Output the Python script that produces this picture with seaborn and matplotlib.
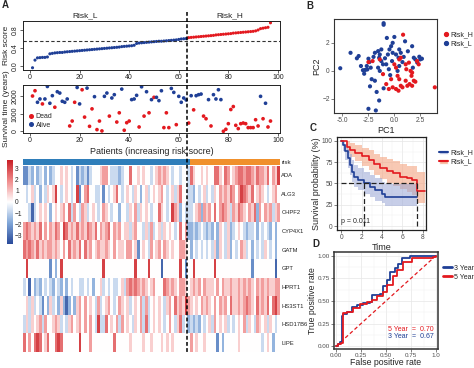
import numpy as np
import pandas as pd
import matplotlib
matplotlib.use("Agg")
import matplotlib.pyplot as plt
import seaborn as sns
from matplotlib import transforms
from matplotlib.colors import LinearSegmentedColormap, ListedColormap
from matplotlib.lines import Line2D
from matplotlib.patches import Patch

# ---- data ----
risk_score = [-0.04, 0.13, 0.18, 0.185, 0.19, 0.19, 0.20, 0.27, 0.28, 0.29,
              0.295, 0.30, 0.30, 0.31, 0.315, 0.32, 0.325, 0.33, 0.335, 0.34,
              0.345, 0.35, 0.355, 0.36, 0.365, 0.37, 0.375, 0.38, 0.385, 0.39,
              0.395, 0.40, 0.405, 0.41, 0.415, 0.42, 0.43, 0.435, 0.44, 0.445,
              0.45, 0.46, 0.50, 0.51, 0.515, 0.52, 0.525, 0.53, 0.535, 0.54,
              0.545, 0.55, 0.55, 0.555, 0.56, 0.565, 0.57, 0.575, 0.58, 0.59,
              0.60, 0.605, 0.61, 0.63, 0.635, 0.64, 0.645, 0.65, 0.655, 0.66,
              0.665, 0.67, 0.675, 0.68, 0.69, 0.695, 0.70, 0.705, 0.71, 0.715,
              0.72, 0.73, 0.735, 0.74, 0.745, 0.75, 0.755, 0.76, 0.765, 0.77,
              0.78, 0.80, 0.83, 0.84, 0.85, 0.86, 0.96]
risk_cutoff = 0.556
n_low, n_high = 63, 34

surv_time = [2019, 2321, 1660, 1849, 1566, 1849, 2566, 1604, 2038, 1377,
             2264, 2189, 1717, 1660, 1849, 302, 585, 1660, 2510, 1566,
             2378, 811, 2472, 283, 1283, 1981, 94, 585, 19, 2000,
             2189, 868, 1906, 2095, 528, 1057, 2415, 57, 490, 585,
             1812, 1849, 2057, 245, 2547, 868, 2264, 1057, 1812, 1944,
             1944, 1755, 2321, 208, 1057, 208, 2453, 2227, 377, 2000,
             1660, 1906, 1793, 472, 2038, 1227, 2038, 2095, 2130, 868,
             717, 1812, 302, 2095, 1849, 2378, 1812, 0, 113, 434,
             1245, 1415, 340, 151, 434, 472, 434, 208, 208, 208,
             660, 302, 2000, 717, 1604, 245, 585]
surv_status = ("DDAADAAAAD" "AAAAADDDAA" "DDADDADDDA" "ADAADDADDD" "AAADADADAD"
               "AAADDDAADA" "AAADADAAAD" "DADAAAADDD" "DDDDDDDDDD" "DDADADD")

genes = ["ADA", "ALG3", "CHPF2", "CYP4X1", "GATM", "GPT", "HPRT1", "HS3ST1", "HSD17B6", "LIPE"]
# expression level codes per patient: '4' = 0, each step = 0.8
expr_codes = [
    "1132423424" "2344545434" "1323134445" "6643332344" "7445454434" "5656543443" "4437544545" "4477547645" "6776776576" "6574658",
    "4345342435" "4584345434" "8146744334" "1434574345" "4354245345" "4564345357" "4433243453" "4354656576" "4687657456" "5434564",
    "4430345454" "2454564736" "4365345434" "6543442443" "5463545434" "4754348652" "4333456265" "6474676536" "5765465726" "4656356",
    "6765657464" "6576487565" "7565765746" "5674656455" "3564435363" "4535454347" "4622323432" "3242543523" "4543233424" "3432424",
    "7676575656" "6565464756" "5747564565" "5654645546" "6451454364" "5646545446" "6542434343" "4352543524" "3465342434" "3543424",
    "4844444444" "1424844444" "4444444444" "8444444444" "4484444844" "4404444448" "4144844444" "4484444444" "4444441444" "4444404",
    "3404232434" "3243242434" "4334342445" "3434334536" "7676565456" "4447656546" "6545656465" "5546465565" "5656565465" "6565566",
    "4535343142" "5342520242" "5646454363" "4564346545" "3454636345" "4543564756" "5865454656" "5464656475" "5656765475" "6574786",
    "3535456364" "4565343564" "5646464383" "3745463645" "4354637345" "4543464357" "3423232434" "5364545343" "4546354365" "4535434",
    "7464787457" "4478744444" "4844464444" "4444744444" "5444454454" "4454545444" "4446454454" "4441424444" "4544444444" "3454244",
]

pca_low_x = [-5.20, -4.21, -3.43, -3.21, -3.02, -2.80, -2.65, -2.49, -2.40, -2.27,
             -2.18, -1.87, -2.34, -1.87, -1.56, -1.40, -1.25, -1.46, -1.25, -1.56,
             -1.40, -1.09, -1.03, -1.03, -0.72, -0.47, -0.31, -0.16, 0.00, -0.62,
             -0.16, 0.16, -0.78, -0.53, -0.22, -1.03, -1.46, -2.49, -1.78, 0.47,
             0.62, 0.40, 1.03, 1.71, 1.78, 1.87, 2.02, 2.40, 2.49, 2.65,
             0.47, 0.31, 0.78, -3.60, -2.90, -0.90, -2.00, -1.70, 0.90, -0.40,
             1.30, -2.60, 2.20]
pca_low_y = [0.19, 1.29, 1.06, 0.35, 0.05, 0.07, 0.35, 0.87, 0.63, 0.23,
             -0.59, -0.70, -1.10, 1.29, 1.41, 1.17, 1.53, 0.94, 0.70, 0.23,
             0.00, 0.47, 3.29, 3.40, 2.35, 1.53, 1.76, 2.00, 2.42, 1.17,
             1.29, 1.17, 0.47, 0.12, 0.70, -1.24, -2.11, -2.70, -2.82, 1.53,
             1.29, 0.94, 2.11, 1.76, 0.23, 0.94, 0.82, 1.01, 0.82, 0.87,
             0.35, 0.00, 0.63, 0.90, -0.20, 0.90, 1.00, -1.50, 1.00, -0.30,
             1.40, 0.10, 0.60]
pca_high_x = [-2.49, -2.09, -1.40, -1.09, -0.78, -0.53, -0.31, 0.00, 0.16, 0.31,
              0.47, 0.62, 0.47, 0.62, 0.78, 0.84, 1.09, 1.15, 1.40, 1.56,
              1.71, 1.65, 1.46, 1.71, 1.87, 2.02, 1.09, 1.25, 0.16, 0.40,
              -0.16, 2.18, 2.34, 3.89]
pca_high_y = [0.63, 0.70, 0.82, -0.23, -0.94, -1.29, -0.59, 0.47, 0.23, -0.35,
              0.82, 0.94, -0.59, -1.06, -1.17, 2.58, 0.47, 0.12, 0.59, 0.00,
              -0.12, -0.35, -0.94, -1.06, -0.70, -0.77, -0.70, -1.06, -1.29, -1.41,
              -1.17, 0.70, 0.47, -1.17]

km_h_time = [0, 0.16, 0.4, 0.72, 0.9, 1.05, 1.3, 1.7, 2.2, 2.8, 3.3, 4.0, 4.3, 7.4]
km_h_surv = [100, 95.5, 87.7, 80, 72, 64, 58, 54, 50, 46, 42, 38, 34.6, 34.6]
km_h_low = [100, 88, 78, 68, 60, 52, 46, 42, 38, 34, 30, 27, 24, 24]
km_h_up = [100, 100, 96, 91, 85, 78, 72, 68, 64, 60, 56, 52, 49, 49]
km_l_time = [0, 0.55, 0.9, 1.4, 2.0, 2.7, 3.2, 3.8, 4.5, 5.1, 5.8, 6.4, 6.9, 7.4, 8.2]
km_l_surv = [100, 93.5, 89.6, 85.7, 82, 78, 72.7, 68, 65, 62, 58, 56, 54, 41, 41]
km_l_low = [100, 86, 81, 76, 71, 66, 60, 55, 51, 47, 43, 40, 37, 27, 27]
km_l_up = [100, 100, 98, 95, 92, 89, 85, 81, 79, 76, 73, 71, 70, 64, 64]
median_h, median_l = 2.2, 7.4

roc3_fpr = [0.00, 0.02, 0.04, 0.06, 0.07, 0.11, 0.16, 0.21, 0.27, 0.34, 0.36, 0.44, 0.47, 0.51, 0.54, 0.59, 0.62, 0.66, 0.74, 1.00]
roc3_tpr = [0.00, 0.03, 0.05, 0.33, 0.36, 0.38, 0.43, 0.46, 0.48, 0.49, 0.57, 0.58, 0.66, 0.73, 0.82, 0.86, 0.91, 0.97, 1.00, 1.00]
roc5_fpr = [0.00, 0.02, 0.05, 0.067, 0.11, 0.17, 0.24, 0.31, 0.36, 0.41, 0.47, 0.51, 0.57, 0.61, 0.67, 0.76, 0.97, 1.00]
roc5_tpr = [0.00, 0.02, 0.04, 0.37, 0.38, 0.42, 0.47, 0.49, 0.51, 0.55, 0.60, 0.68, 0.77, 0.84, 0.93, 0.97, 0.99, 1.00]

# ---- colours ----
BLUE = "#1F3F96"
RED = "#E3191F"
BAR_BLUE = "#2F7EBA"
BAR_ORANGE = "#F0902C"

sns.set_theme(style="white")
plt.rcParams['font.family'] = ['Liberation Sans', 'DejaVu Sans']

W, H = 474, 368
fig = plt.figure(figsize=(W / 100, H / 100), dpi=100)


def box(l, t, r, b):
    return [l / W, 1 - b / H, (r - l) / W, (b - t) / H]


def base_style(ax, lw=0.7, col="#222222", size=5):
    for s in ax.spines.values():
        s.set_visible(True)
        s.set_color(col)
        s.set_linewidth(lw)
    ax.tick_params(direction='out', length=2, width=0.5, labelsize=size, pad=1,
                   colors='#222222', left=True, bottom=True)


n = len(risk_score)
patients = np.arange(1, n + 1)
groups = ['Risk_L'] * n_low + ['Risk_H'] * n_high

# ---- A: risk score ----
ax1 = fig.add_axes(box(23, 21, 280, 70))
df_risk = pd.DataFrame({'patient': patients, 'score': risk_score, 'group': groups})
sns.scatterplot(data=df_risk, x='patient', y='score', hue='group',
                palette={'Risk_L': BLUE, 'Risk_H': RED}, s=5, linewidth=0,
                legend=False, ax=ax1)
ax1.axhline(risk_cutoff, ls=(0, (3, 2)), color='#333333', lw=0.8)
ax1.set_xlim(-2.84, 100.84)
ax1.set_ylim(-0.09, 1.0)
ax1.set_xticks([0, 20, 40, 60, 80, 100])
ax1.set_yticks([0, 0.4, 0.8])
ax1.set_yticklabels(['0.0', '0.4', '0.8'], rotation=90, va='center')
ax1.set_xlabel('')
ax1.set_ylabel('Risk score', fontsize=6, labelpad=1)
base_style(ax1)
ax1.text(0.241, 1.1, 'Risk_L', transform=ax1.transAxes, ha='center', va='center', fontsize=6)
ax1.text(0.805, 1.1, 'Risk_H', transform=ax1.transAxes, ha='center', va='center', fontsize=6)

# ---- A: survival time ----
ax2 = fig.add_axes(box(23, 85, 280, 133))
df_surv = pd.DataFrame({'patient': patients, 'time': surv_time,
                        'status': ['Dead' if c == 'D' else 'Alive' for c in surv_status]})
sns.scatterplot(data=df_surv, x='patient', y='time', hue='status',
                palette={'Dead': RED, 'Alive': BLUE}, s=7, linewidth=0,
                legend=False, ax=ax2)
ax2.set_xlim(-2.84, 100.84)
ax2.set_ylim(-100, 2650)
ax2.set_xticks([0, 20, 40, 60, 80, 100])
ax2.set_yticks([0, 1000, 2000])
ax2.set_yticklabels(['0', '1000', '2000'], rotation=90, va='center')
ax2.set_xlabel('Patients (increasing risk socre)', fontsize=6.5, labelpad=2)
ax2.set_ylabel('Survival time (years)', fontsize=6, labelpad=1)
base_style(ax2)
h_dead = Line2D([], [], marker='o', ls='', color=RED, markersize=2.6, label='Dead')
h_alive = Line2D([], [], marker='o', ls='', color=BLUE, markersize=2.6, label='Alive')
ax2.legend(handles=[h_dead, h_alive], loc='lower left', frameon=False, fontsize=5,
           handletextpad=0.2, borderaxespad=0.2, labelspacing=0.2, handlelength=1)

# ---- A: heatmap ----
expr = np.array([[(int(c) - 4) * 0.8 for c in row] for row in expr_codes])
df_expr = pd.DataFrame(expr, index=genes)
cmap = LinearSegmentedColormap.from_list('bwr_r', ['#2A4A9A', '#7FA6D8', '#FFFFFF', '#F08C8C', '#C81E25'])
ax_rb = fig.add_axes(box(23, 159, 280, 165))
sns.heatmap(np.array([[0] * n_low + [1] * n_high]), cmap=ListedColormap([BAR_BLUE, BAR_ORANGE]),
            cbar=False, xticklabels=False, yticklabels=['risk'], ax=ax_rb)
ax_rb.yaxis.tick_right()
ax_rb.tick_params(axis='y', length=0, labelsize=4.5, pad=1, labelrotation=0)

ax_hm = fig.add_axes(box(23, 166, 280, 352))
cax = fig.add_axes(box(7, 160, 13, 244))
sns.heatmap(df_expr, cmap=cmap, vmin=-3.8, vmax=3.8, cbar_ax=cax,
            xticklabels=False, yticklabels=genes, ax=ax_hm)
ax_hm.yaxis.tick_right()
ax_hm.tick_params(axis='y', length=0, labelsize=4.2, pad=1, labelrotation=0)
cb = ax_hm.collections[0].colorbar
cb.set_ticks([3, 2, 1, 0, -1, -2, -3])
cb.ax.tick_params(labelsize=4.8, length=0, pad=1.5)
cb.outline.set_visible(False)

trans = transforms.blended_transform_factory(ax1.transData, fig.transFigure)
fig.add_artist(Line2D([63.5, 63.5], [1 - 12 / H, 1 - 352 / H], transform=trans,
                      color='black', lw=1.1, ls=(0, (2.5, 1.5))))

# ---- B: PCA ----
ax_b = fig.add_axes(box(334, 19, 437, 113))
df_pca = pd.DataFrame({'PC1': pca_low_x + pca_high_x, 'PC2': pca_low_y + pca_high_y,
                       'group': ['Risk_L'] * len(pca_low_x) + ['Risk_H'] * len(pca_high_x)})
sns.scatterplot(data=df_pca, x='PC1', y='PC2', hue='group',
                palette={'Risk_L': BLUE, 'Risk_H': RED}, s=9, linewidth=0,
                legend=False, ax=ax_b)
ax_b.set_xlim(-5.8, 4.1)
ax_b.set_ylim(-3.0, 3.7)
ax_b.set_xticks([-5, -2.5, 0, 2.5])
ax_b.set_xticklabels(['-5.0', '-2.5', '0.0', '2.5'])
ax_b.set_yticks([-2, 0, 2])
ax_b.set_xlabel('PC1', fontsize=6.5, labelpad=1)
ax_b.set_ylabel('PC2', fontsize=6.5, labelpad=1)
base_style(ax_b, lw=0.8, col='#333333', size=4.8)
ax_b.tick_params(colors='#4D4D4D')
hb = [Line2D([], [], marker='o', ls='', color=RED, markersize=2.8, label='Risk_H'),
      Line2D([], [], marker='o', ls='', color=BLUE, markersize=2.8, label='Risk_L')]
ax_b.legend(handles=hb, loc='center left', bbox_to_anchor=(1.0, 0.785), frameon=False,
            fontsize=5, handletextpad=0.1, labelspacing=0.3, handlelength=0.9)


def bw_grid(ax, major_x, minor_x, major_y, minor_y):
    ax.set_xticks(major_x)
    ax.set_xticks(minor_x, minor=True)
    ax.set_yticks(major_y)
    ax.set_yticks(minor_y, minor=True)
    ax.grid(which='major', color='#E6E6E6', lw=0.5)
    ax.grid(which='minor', color='#F0F0F0', lw=0.3)
    ax.tick_params(which='minor', length=0)
    ax.set_axisbelow(True)


# ---- C: Kaplan-Meier ----
ax_c = fig.add_axes(box(337, 137, 426, 230))
ax_c.fill_between(km_l_time, km_l_low, km_l_up, step='post', color='#F4A582', alpha=0.6, lw=0)
ax_c.fill_between(km_h_time, km_h_low, km_h_up, step='post', color='#9AA7D6', alpha=0.55, lw=0)
df_km = pd.DataFrame({'time': km_h_time + km_l_time, 'surv': km_h_surv + km_l_surv,
                      'group': ['Risk_H'] * len(km_h_time) + ['Risk_L'] * len(km_l_time)})
sns.lineplot(data=df_km, x='time', y='surv', hue='group', palette={'Risk_H': BLUE, 'Risk_L': RED},
             estimator=None, sort=False, drawstyle='steps-post', lw=1.2, legend=False, ax=ax_c)
ax_c.plot([0, median_l], [50, 50], ls=(0, (4, 2)), color='#222222', lw=0.9)
ax_c.plot([median_h, median_h], [0, 50], ls=(0, (4, 2)), color='#222222', lw=0.9)
ax_c.plot([median_l, median_l], [0, 50], ls=(0, (4, 2)), color='#222222', lw=0.9)
ax_c.text(0.0, 1.5, 'p = 0.011', fontsize=5, ha='left', va='bottom')
ax_c.set_xlim(-0.4, 8.3)
ax_c.set_ylim(-4.7, 104.7)
bw_grid(ax_c, [0, 2, 4, 6, 8], [1, 3, 5, 7], [0, 25, 50, 75, 100], [12.5, 37.5, 62.5, 87.5])
ax_c.set_xlabel('Time', fontsize=6.5, labelpad=1)
ax_c.set_ylabel('Survival probability (%)', fontsize=6.5, labelpad=1)
base_style(ax_c, lw=0.9, col='#222222', size=4.8)
ax_c.tick_params(colors='#4D4D4D')
hc = [(Patch(facecolor='#9AA7D6', alpha=0.7), Line2D([], [], color=BLUE, lw=1.5)),
      (Patch(facecolor='#F4A582', alpha=0.8), Line2D([], [], color=RED, lw=1.5))]
ax_c.legend(hc, ['Risk_H', 'Risk_L'], loc='center left', bbox_to_anchor=(1.08, 0.78),
            frameon=False, fontsize=5, handletextpad=0.3, labelspacing=0.3, handlelength=1.3)

# ---- D: ROC ----
ax_d = fig.add_axes(box(334, 252, 438, 349))
ax_d.plot([0, 1], [0, 1], ls=(0, (3, 2)), color=RED, lw=0.9)
df_roc = pd.DataFrame({'fpr': roc3_fpr + roc5_fpr, 'tpr': roc3_tpr + roc5_tpr,
                       'year': ['3 Year'] * len(roc3_fpr) + ['5 Year'] * len(roc5_fpr)})
sns.lineplot(data=df_roc, x='fpr', y='tpr', hue='year', palette={'3 Year': BLUE, '5 Year': RED},
             estimator=None, sort=False, drawstyle='steps-post', lw=1.3, legend=False, ax=ax_d)
ax_d.set_xlim(-0.02, 1.02)
ax_d.set_ylim(-0.03, 1.04)
bw_grid(ax_d, [0, 0.25, 0.5, 0.75, 1.0], [0.125, 0.375, 0.625, 0.875],
        [0, 0.25, 0.5, 0.75, 1.0], [0.125, 0.375, 0.625, 0.875])
ax_d.set_xticklabels(['0.00', '0.25', '0.50', '0.75', '1.0'])
ax_d.set_yticklabels(['0.00', '0.25', '0.50', '0.75', '1.00'])
ax_d.set_xlabel('False positive rate', fontsize=6.3, labelpad=0)
ax_d.set_ylabel('True positive rate', fontsize=6.2)
ax_d.yaxis.set_label_coords(-0.165, 0.5)
base_style(ax_d, lw=1.1, col='#333333', size=4.5)
ax_d.tick_params(colors='#4D4D4D')
ax_d.text(0.98, 0.19, '5 Year  =  0.70', color=RED, fontsize=5, ha='right', va='center')
ax_d.text(0.98, 0.11, '3 Year  =  0.67', color=BLUE, fontsize=5, ha='right', va='center')
hd = [Line2D([], [], color=BLUE, lw=2, label='3 Year'), Line2D([], [], color=RED, lw=2, label='5 Year')]
ax_d.legend(handles=hd, loc='center left', bbox_to_anchor=(0.99, 0.785), frameon=False,
            fontsize=5, handletextpad=0.3, labelspacing=0.3, handlelength=1.2)

# ---- panel letters ----
for lab, px, py in [('A', 2, 5), ('B', 306, 6), ('C', 310, 128), ('D', 312, 244)]:
    fig.text(px / W, 1 - py / H, lab, fontsize=7, fontweight='bold', ha='left', va='center')

fig.savefig('out.png', dpi=100)
